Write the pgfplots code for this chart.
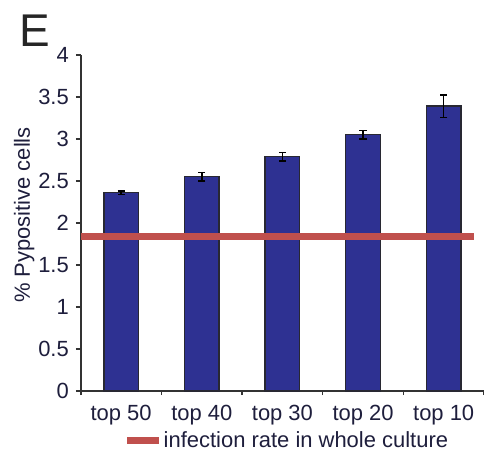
\documentclass[border=0pt]{standalone}
\usepackage{pgfplots}
\pgfplotsset{compat=1.18}
\usepackage{fontspec}
\setmainfont{Liberation Sans}
\usetikzlibrary{calc}

\definecolor{barblue}{RGB}{46,49,146}
\definecolor{baredge}{RGB}{40,40,50}
\definecolor{culturered}{RGB}{192,80,77}
\definecolor{txt}{RGB}{30,30,60}

% mean % Py-positive cells and error (one row per cut-off)
\pgfplotstableread{
x    y     err
0.5  2.36  0.020
1.5  2.55  0.050
2.5  2.79  0.050
3.5  3.05  0.050
4.5  3.39  0.135
}\pydata

\begin{document}
\begin{tikzpicture}
\begin{axis}[
  name=ax,
  scale only axis,
  width=202pt, height=168.5pt,
  xmin=0, xmax=5,
  ymin=0, ymax=4,
  axis lines*=left,
  axis line style={-, draw=black!80, line width=0.75pt},
  every tick/.style={draw=black!80, line width=0.75pt},
  tick align=outside,
  xtick={0.5,1.5,2.5,3.5,4.5},
  xticklabels={top 50,top 40,top 30,top 20,top 10},
  major x tick style={draw=none},
  minor xtick={0,1,2,3,4,5},
  minor tick length=2pt,
  major tick length=2.5pt,
  ytick={0,0.5,1,1.5,2,2.5,3,3.5,4},
  /pgf/number format/assume math mode=true,
  tick label style={font=\fontsize{11}{13}\selectfont, text=txt},
  xticklabel style={yshift=-1pt},
  ylabel={\% Pypositive cells},
  ylabel style={font=\fontsize{11}{13}\selectfont, text=txt, xshift=4pt},
  ylabel shift=-5pt,
  clip=false,
  legend style={draw=none, fill=none, at={(0.51,-0.148)}, anchor=center,
    font=\fontsize{11}{13}\selectfont, text=txt, inner sep=0pt,
    nodes={inner xsep=0.5pt},
    /tikz/every even column/.append style={column sep=0pt}},
  legend cell align=left,
  legend image code/.code={\draw[culturered, line width=3.5pt] (0pt,0pt) -- (16pt,0pt);},
]
\addplot[ybar, bar width=0.43, fill=barblue, draw=baredge, line width=0.7pt, forget plot,
  error bars/.cd, y dir=both, y explicit,
  error mark options={rotate=90, mark size=1.8pt, line width=0.8pt, black},
  error bar style={line width=0.8pt, black}]
  table[x=x, y=y, y error=err] {\pydata};
% infection rate measured in the whole culture
\addplot[culturered, line width=3.5pt] coordinates {(0,1.845) (4.88,1.845)};
\addlegendentry{infection rate in whole culture}
\end{axis}
\node[anchor=base west, font=\fontsize{23}{27}\selectfont, text=black!85, inner sep=0pt]
  at ($(ax.north west)+(-31pt,4pt)$) {E};
\pgfresetboundingbox
\path ($(ax.south west)+(-40.5pt,-30.5pt)$) rectangle ($(ax.north east)+(0pt,27.5pt)$);
\end{tikzpicture}
\end{document}
